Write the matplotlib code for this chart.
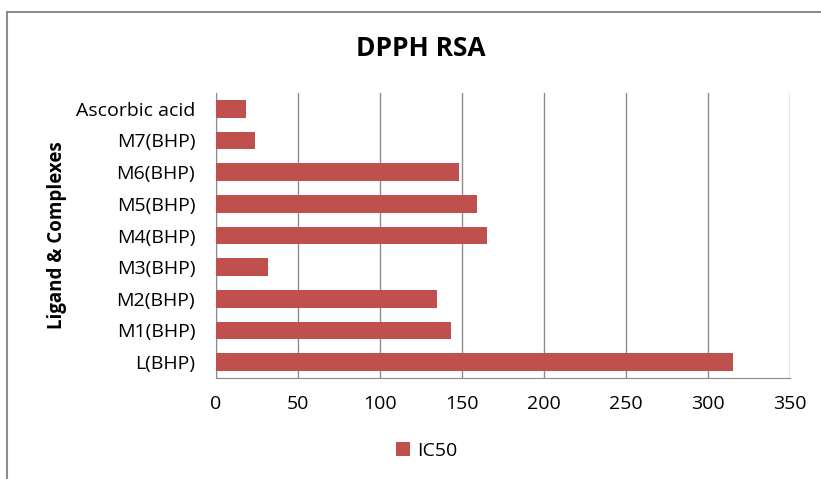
import matplotlib
matplotlib.use("Agg")
import matplotlib.pyplot as plt
from matplotlib.patches import Rectangle

categories = ["L(BHP)", "M1(BHP)", "M2(BHP)", "M3(BHP)", "M4(BHP)",
              "M5(BHP)", "M6(BHP)", "M7(BHP)", "Ascorbic acid"]
ic50 = [315, 143, 135, 32, 165, 159, 148, 24, 18]
xticks = [0, 50, 100, 150, 200, 250, 300, 350]

plt.rcParams['font.family'] = ['Open Sans', 'DejaVu Sans']

fig = plt.figure(figsize=(8.21, 4.79), dpi=100)
ax = fig.add_axes([216/821, 1-378/479, (790-216)/821, (378-93)/479])

ax.barh(categories, ic50, height=0.55, color="#C0504D", label="IC50", zorder=3)
ax.set_xlim(0, 350)
ax.set_ylim(-0.5, 8.5)
ax.set_xticks(xticks)
ax.grid(axis="x", color="#8c8c8c", linewidth=1, zorder=0)
for s in ["top", "right"]:
    ax.spines[s].set_visible(False)
for s in ["left", "bottom"]:
    ax.spines[s].set_color("#8c8c8c")
ax.tick_params(axis="x", length=0, labelsize=14, pad=12)
ax.tick_params(axis="y", length=0, labelsize=14, pad=15)
ax.set_ylabel("Ligand & Complexes", fontsize=13.5, fontweight="bold", labelpad=6)
fig.text(421/821, 1-48/479, "DPPH RSA", ha="center", va="center",
         fontsize=19, fontweight="bold")
fig.legend(loc="center", bbox_to_anchor=(427/821, 1-451/479), frameon=False,
           fontsize=14, handlelength=0.7, handleheight=0.7, handletextpad=0.4)

fig.patches.append(Rectangle((7/821, -0.05), 1.0, 1-12/479+0.05,
                             transform=fig.transFigure, fill=False,
                             edgecolor="#8c8c8c", linewidth=1.5))
fig.savefig("out.png", dpi=100)
